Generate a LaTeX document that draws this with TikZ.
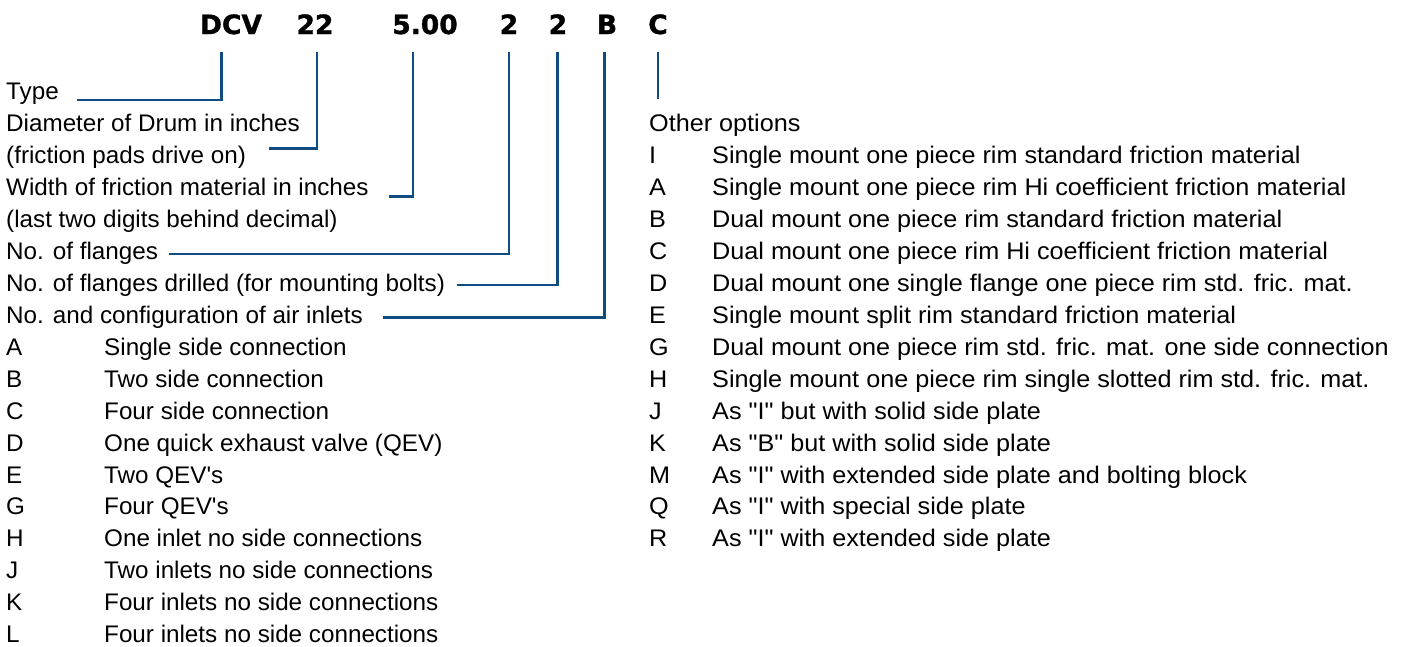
\documentclass[tikz,border=0pt]{standalone}
\usepackage{fontspec}
\newfontfamily\bodyfont[FakeStretch=1.01]{Liberation Sans}
\newfontfamily\rightfont[FakeStretch=1.05]{Liberation Sans}
\newfontfamily\hdrfont[BoldFeatures={FakeBold=1.2}]{DejaVu Sans}
\definecolor{cblue}{RGB}{16,76,130}
\tikzset{
  lbl/.style={anchor=base west, inner sep=0pt, font=\bodyfont\fontsize{24}{28}\selectfont, text=black},
  rlbl/.style={lbl, font=\rightfont\fontsize{24}{28}\selectfont},
  hdr/.style={anchor=base, inner sep=0pt, font=\hdrfont\bfseries\fontsize{26.5}{30}\selectfont, text=black},
  conn/.style={draw=cblue, line width=2.7pt},
}
\begin{document}
\begin{tikzpicture}[x=1pt,y=-1pt]
\useasboundingbox (0,0) rectangle (1410,646);
% header
\node[hdr] (hDCV) at (231,34) {DCV};
\node[hdr] (h22) at (315,34) {22};
\node[hdr] (h500) at (425,34) {5.00};
\node[hdr] (hF) at (509,34) {2};
\node[hdr] (hD) at (558,34) {2};
\node[hdr] (hB) at (607,34) {B};
\node[hdr] (hC) at (658,34) {C};
% left column labels
\def\LX{6}
\def\DX{104}
\node[lbl] (l0) at (\LX,99.6) {Type};
\node[lbl] (l1) at (\LX,131.55) {Diameter of Drum in inches};
\node[lbl] (l2) at (\LX,163.5) {(friction pads drive on)};
\node[lbl] (l3) at (\LX,195.45) {Width of friction material in inches};
\node[lbl] (l4) at (\LX,227.4) {(last two digits behind decimal)};
\node[lbl] (l5) at (\LX,259.35) {No. of flanges};
\node[lbl] (l6) at (\LX,291.3) {No. of flanges drilled (for mounting bolts)};
\node[lbl] (l7) at (\LX,323.25) {No. and configuration of air inlets};
\foreach \k/\L/\T [count=\i] in {
  8/A/Single side connection,
  9/B/Two side connection,
  10/C/Four side connection,
  11/D/One quick exhaust valve (QEV),
  12/E/Two QEV's,
  13/G/Four QEV's,
  14/H/One inlet no side connections,
  15/J/Two inlets no side connections,
  16/K/Four inlets no side connections,
  17/L/Four inlets no side connections}{
  \pgfmathsetmacro\yy{91+31.95*\k+8.6}
  \node[lbl] (ak\i) at (\LX,\yy) {\L};
  \node[lbl] (at\i) at (\DX,\yy) {\T};
}
% right column
\def\RX{649}
\def\RD{712}
\node[rlbl] (other) at (\RX,131.55) {Other options};
\foreach \k/\L/\T [count=\i] in {
  2/I/Single mount one piece rim standard friction material,
  3/A/Single mount one piece rim Hi coefficient friction material,
  4/B/Dual mount one piece rim standard friction material,
  5/C/Dual mount one piece rim Hi coefficient friction material,
  6/D/Dual mount one single flange one piece rim std. fric. mat.,
  7/E/Single mount split rim standard friction material,
  8/G/Dual mount one piece rim std. fric. mat. one side connection,
  9/H/Single mount one piece rim single slotted rim std. fric. mat.,
  10/J/As "I" but with solid side plate,
  11/K/As "B" but with solid side plate,
  12/M/As "I" with extended side plate and bolting block,
  13/Q/As "I" with special side plate,
  14/R/As "I" with extended side plate}{
  \pgfmathsetmacro\yy{91+31.95*\k+8.6}
  \node[rlbl] (ok\i) at (\RX,\yy) {\L};
  \node[rlbl] (ot\i) at (\RD,\yy) {\T};
}
% connector coordinates
\coordinate (v1) at (221.5,52);   \coordinate (e1) at (77,100);
\coordinate (v2) at (317,52);     \coordinate (e2) at (269,148.5);
\coordinate (v3) at (413,52);     \coordinate (e3) at (389,196.5);
\coordinate (v4) at (509,52);     \coordinate (e4) at (169,254);
\coordinate (v5) at (557.5,52);   \coordinate (e5) at (457,285);
\coordinate (v6) at (604.5,52);   \coordinate (e6) at (383,317.5);
\coordinate (v7) at (658,52);     \coordinate (e7) at (658,98.5);
\draw[conn] (v1) |- (e1);
\draw[conn] (v2) |- (e2);
\draw[conn] (v3) |- (e3);
\draw[conn] (v4) |- (e4);
\draw[conn] (v5) |- (e5);
\draw[conn] (v6) |- (e6);
\draw[conn] (v7) -- (e7);
\end{tikzpicture}
\end{document}
